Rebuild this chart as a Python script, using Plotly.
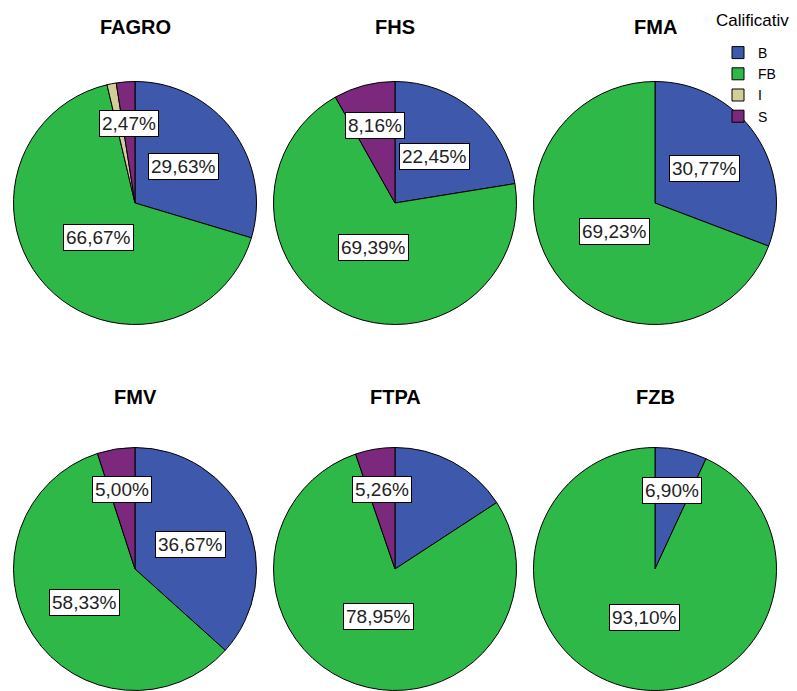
import math
import plotly.graph_objects as go

# ---- data ----
faculties = ["FAGRO", "FHS", "FMA", "FMV", "FTPA", "FZB"]
categories = ["B", "FB", "I", "S"]
pct_B = [29.63, 22.45, 30.77, 36.67, 15.79, 6.90]
pct_FB = [66.67, 69.39, 69.23, 58.33, 78.95, 93.10]
pct_I = [1.23, 0, 0, 0, 0, 0]
pct_S = [2.47, 8.16, 0, 5.00, 5.26, 0]
unlabeled = {("FAGRO", "I"), ("FTPA", "B")}
legend_title = "Calificativ"

# ---- style ----
colors = {"B": "#3E58AC", "FB": "#2EB848", "I": "#D3CE97", "S": "#7C287D"}
W, H = 797, 691
col_cx = [135, 395, 655]
row_cy = [203, 569]
radius = 121.5
title_y = [27, 397]


def clamp(v):
    return min(1.0, max(0.0, v))


fig = go.Figure()
series = {"B": pct_B, "FB": pct_FB, "I": pct_I, "S": pct_S}

for i, fac in enumerate(faculties):
    r_i, c_i = divmod(i, 3)
    cx, cy = col_cx[c_i], row_cy[r_i]
    labs = [c for c in categories if series[c][i] > 0]
    vals = [series[c][i] for c in labs]
    fig.add_trace(go.Pie(
        labels=labs, values=vals, sort=False, direction="clockwise", rotation=0,
        marker=dict(colors=[colors[c] for c in labs], line=dict(color="black", width=1)),
        textinfo="none", hoverinfo="label+percent",
        domain=dict(x=[clamp((cx - radius) / W), clamp((cx + radius) / W)],
                    y=[clamp(1 - (cy + radius) / H), clamp(1 - (cy - radius) / H)]),
        name=fac,
    ))
    # title
    fig.add_annotation(x=cx / W, y=1 - title_y[r_i] / H, xref="paper", yref="paper",
                       xanchor="center", yanchor="middle",
                       text=f"<b>{fac}</b>", showarrow=False,
                       font=dict(family="Arial", size=20, color="black"))
    # value labels
    total = sum(vals)
    start = 0.0
    for c, v in zip(labs, vals):
        share = v / total
        mid = (start + share / 2) * 2 * math.pi
        start += share
        if (fac, c) in unlabeled:
            continue
        if share < 0.10:
            f = 0.66
        elif share > 0.6:
            f = 0.41
        else:
            f = 0.5
        px = cx + radius * f * math.sin(mid)
        py = cy - radius * f * math.cos(mid)
        fig.add_annotation(x=px / W, y=1 - py / H, xref="paper", yref="paper",
                           xanchor="center", yanchor="middle",
                           text=f"{v:.2f}%".replace(".", ","), showarrow=False,
                           font=dict(family="Arial", size=19, color="#222"),
                           bgcolor="white", bordercolor="black", borderwidth=1, borderpad=2)

# legend title
fig.add_annotation(x=714 / W, y=1 - 20 / H, xref="paper", yref="paper",
                   xanchor="left", yanchor="middle", text=legend_title, showarrow=False,
                   font=dict(family="Arial", size=17, color="black"))

fig.update_layout(
    width=W, height=H, margin=dict(l=0, r=0, t=0, b=0),
    paper_bgcolor="white", plot_bgcolor="white",
    font=dict(family="Arial", color="black"),
    legend=dict(font=dict(size=14), x=718 / W, y=1 - 37 / H, xanchor="left", yanchor="top",
                bgcolor="rgba(0,0,0,0)", traceorder="normal", tracegroupgap=0),
)

fig.write_html("out.html", config={"displayModeBar": False},
               post_script="document.body.style.margin='0px';document.body.style.overflow='hidden';")
